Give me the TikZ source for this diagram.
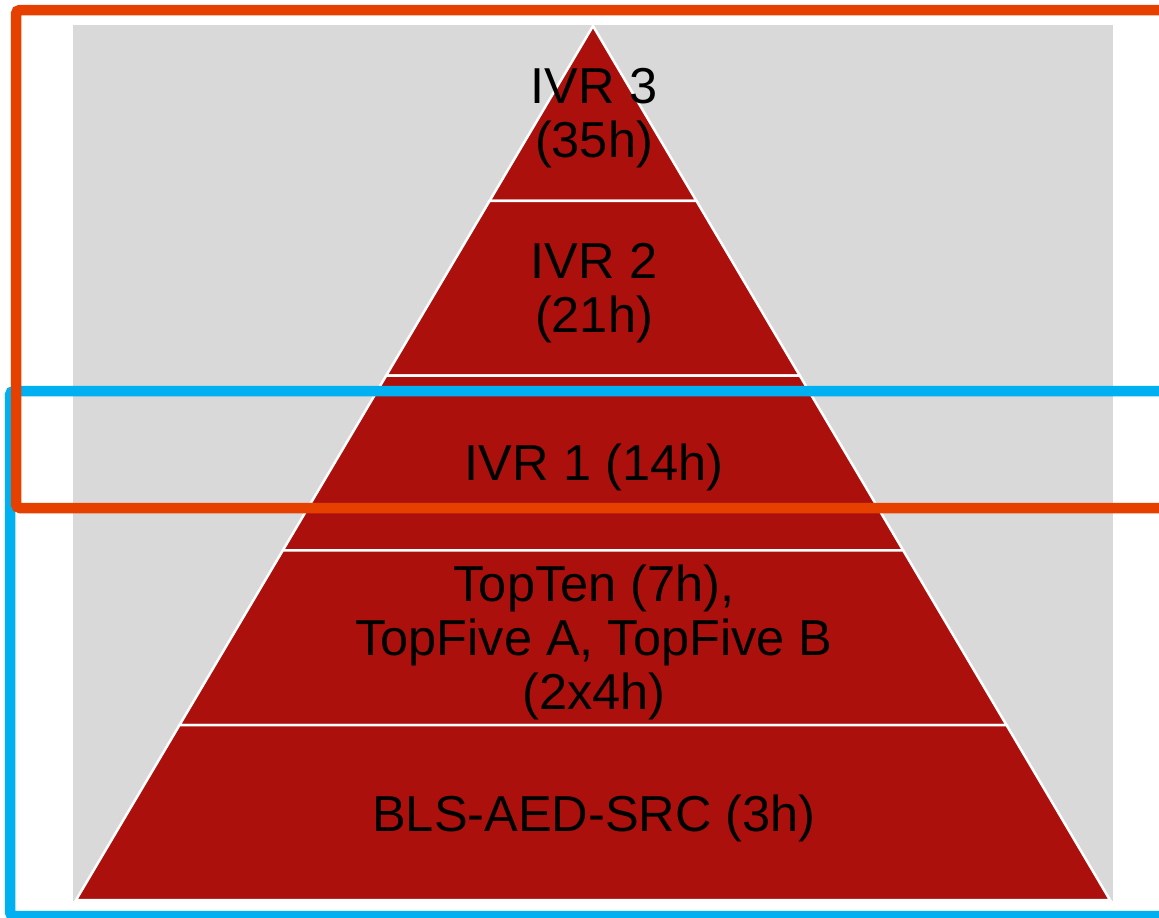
\documentclass[tikz,border=0pt]{standalone}
\usepackage{fontspec}
\setmainfont{Liberation Sans}
\usetikzlibrary{calc}
\definecolor{pyrred}{HTML}{AC100C}
\definecolor{pyrgray}{HTML}{D9D9D9}
\definecolor{frameorange}{HTML}{E64000}
\definecolor{frameblue}{HTML}{00B0F0}
\begin{document}
\begin{tikzpicture}[x=1pt,y=-1pt,
    lvl/.style={fill=pyrred,draw=white,line width=2.5pt},
    lbl/.style={anchor=base,align=center,inner sep=0pt,font=\fontsize{50.5}{54}\selectfont},
    frame/.style={line width=10.5pt,rounded corners=4pt}]
  \useasboundingbox(0,0)rectangle(1159,918);
  \fill[pyrgray](73,25)rectangle(1113,901);
  \coordinate(T)at(593,26);\coordinate(L)at(76,900);\coordinate(R)at(1110,900);
  \foreach \i in{1,...,4}{
    \coordinate(L\i)at($(T)!\i/5!(L)$);\coordinate(R\i)at($(T)!\i/5!(R)$);
  }
  \draw[lvl](T)--(R1)--(L1)--cycle;
  \foreach \i/\j in{1/2,2/3,3/4}{
    \draw[lvl](L\i)--(R\i)--(R\j)--(L\j)--cycle;
  }
  \draw[lvl](L4)--(R4)--(R)--(L)--cycle;
  % base = last line
  \node[lbl](ivrC)at(594,157){IVR 3\\(35h)};
  \node[lbl](ivrB)at(594,332){IVR 2\\(21h)};
  \node[lbl](ivrA)at(594,480){IVR 1 (14h)};
  \node[lbl](top)at(594,709){TopTen (7h),\\TopFive A, TopFive B\\(2x4h)};
  \node[lbl](bls)at(594,831){BLS-AED-SRC (3h)};
  % frames
  \draw[frame,frameblue](10,391)rectangle(1180,916);
  \draw[frame,frameorange](16,10)rectangle(1180,508);
\end{tikzpicture}
\end{document}
